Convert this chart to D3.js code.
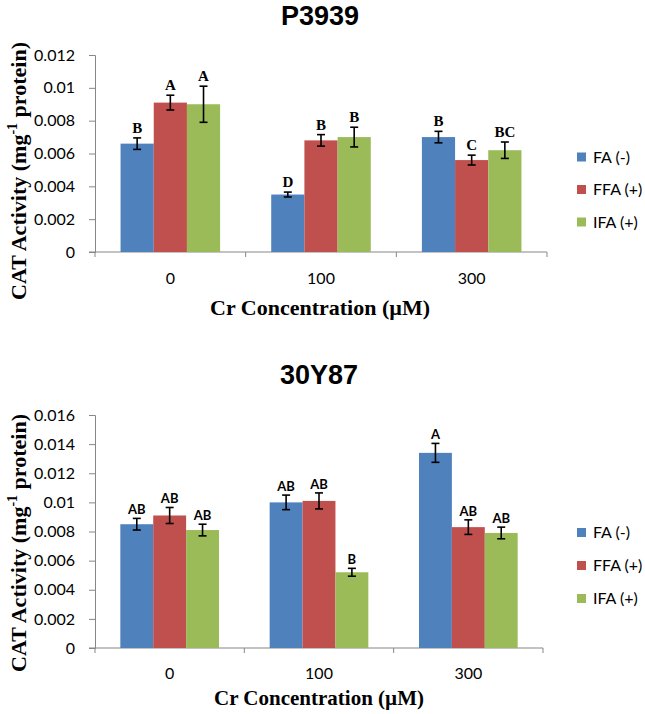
<!DOCTYPE html>
<html>
<head>
<meta charset="utf-8">
<script src="https://cdn.jsdelivr.net/npm/d3@7"></script>
<style>
  body { margin: 0; background: #fff; }
  svg { display: block; }
  .sans { font-family: Lato, "Open Sans", sans-serif; }
  .head { font-family: "Liberation Sans", Arial, sans-serif; }
  .serif { font-family: "Liberation Serif", "DejaVu Serif", serif; }
</style>
</head>
<body>
<div id="chart"></div>
<script>
const WIDTH = 645;
const HEIGHT = 714;

// shared categories and series
const categories = ["0", "100", "300"];
const seriesNames = ["FA (-)", "FFA (+)", "IFA (+)"];
const colors = ["#4F81BD", "#C0504D", "#9BBB59"];

// P3939
const p3939Ticks = [0, 0.002, 0.004, 0.006, 0.008, 0.01, 0.012];
const p3939TickLabels = ["0", "0.002", "0.004", "0.006", "0.008", "0.01", "0.012"];
const p3939FA = [0.0066, 0.0035, 0.0070];
const p3939FFA = [0.0091, 0.0068, 0.0056];
const p3939IFA = [0.0090, 0.0070, 0.0062];
const p3939FAErr = [0.00035, 0.00015, 0.00035];
const p3939FFAErr = [0.00045, 0.00035, 0.0003];
const p3939IFAErr = [0.0011, 0.0006, 0.0005];
const p3939FALetters = ["B", "D", "B"];
const p3939FFALetters = ["A", "B", "C"];
const p3939IFALetters = ["A", "B", "BC"];

// 30Y87
const y30Ticks = [0, 0.002, 0.004, 0.006, 0.008, 0.01, 0.012, 0.014, 0.016];
const y30TickLabels = ["0", "0.002", "0.004", "0.006", "0.008", "0.01", "0.012", "0.014", "0.016"];
const y30FA = [0.0085, 0.0100, 0.0134];
const y30FFA = [0.0091, 0.0101, 0.0083];
const y30IFA = [0.0081, 0.0052, 0.0079];
const y30FAErr = [0.0004, 0.0005, 0.00065];
const y30FFAErr = [0.00055, 0.00055, 0.0005];
const y30IFAErr = [0.0004, 0.00027, 0.0004];
const y30FALetters = ["AB", "AB", "A"];
const y30FFALetters = ["AB", "AB", "AB"];
const y30IFALetters = ["AB", "B", "AB"];

const svg = d3.select("#chart")
  .append("svg")
    .attr("width", WIDTH)
    .attr("height", HEIGHT);

function drawChart(opt) {
  const g = svg.append("g");

  // build rows from the arrays
  const rows = [];
  opt.values.forEach((vals, s) => {
    vals.forEach((v, c) => {
      rows.push({cat: categories[c], series: seriesNames[s], s: s,
                 value: v, err: opt.errs[s][c], letter: opt.letters[s][c]});
    });
  });

  const x0 = d3.scaleBand()
    .domain(categories)
    .range([opt.left, opt.right])
    .paddingInner(0).paddingOuter(0);

  const x1 = d3.scaleBand()
    .domain(seriesNames)
    .range([0, x0.bandwidth()])
    .paddingInner(0).paddingOuter(0.77);

  const y = d3.scaleLinear()
    .domain([0, opt.yMax])
    .range([opt.bottom, opt.top]);

  // title
  g.append("text")
    .attr("class", "head")
    .attr("x", opt.titleX).attr("y", opt.titleY)
    .attr("text-anchor", "middle")
    .attr("font-size", 27).attr("font-weight", "bold")
    .text(opt.title);

  // y axis
  const yAxis = g.append("g")
    .attr("transform", "translate(" + opt.left + ",0)")
    .call(d3.axisLeft(y).tickValues(opt.ticks).tickSize(6).tickPadding(14)
      .tickFormat((d, i) => opt.tickLabels[i]));
  yAxis.selectAll("path, line").attr("stroke", "#878787");
  yAxis.selectAll("text").attr("class", "sans").attr("font-size", 16).attr("fill", "#000");

  // x axis (ticks on band edges)
  const xAxis = g.append("g")
    .attr("transform", "translate(0," + opt.bottom + ")");
  xAxis.append("line")
    .attr("x1", opt.left - 6).attr("x2", opt.right)
    .attr("stroke", "#878787");
  const edges = categories.map(c => x0(c)).concat([opt.right]);
  xAxis.selectAll(".edge")
    .data(edges)
    .enter()
    .append("line")
      .attr("x1", d => d).attr("x2", d => d)
      .attr("y1", 0).attr("y2", 5)
      .attr("stroke", "#878787");
  xAxis.selectAll(".cat")
    .data(categories)
    .enter()
    .append("text")
      .attr("class", "sans")
      .attr("x", d => x0(d) + x0.bandwidth() / 2)
      .attr("y", opt.catY - opt.bottom)
      .attr("dy", "0.35em")
      .attr("text-anchor", "middle")
      .attr("font-size", 16)
      .text(d => d);

  // bars
  g.append("g")
    .selectAll("rect")
    .data(rows)
    .enter()
    .append("rect")
      .attr("x", d => x0(d.cat) + x1(d.series))
      .attr("y", d => y(d.value))
      .attr("width", x1.bandwidth())
      .attr("height", d => y(0) - y(d.value))
      .attr("fill", d => colors[d.s]);

  // error bars
  const eb = g.append("g").attr("stroke", "#000").attr("stroke-width", 1.6);
  rows.forEach(d => {
    const cx = x0(d.cat) + x1(d.series) + x1.bandwidth() / 2;
    const y1 = y(d.value + d.err), y2 = y(d.value - d.err);
    eb.append("line").attr("x1", cx).attr("x2", cx).attr("y1", y1).attr("y2", y2);
    eb.append("line").attr("x1", cx - 4).attr("x2", cx + 4).attr("y1", y1).attr("y2", y1);
    eb.append("line").attr("x1", cx - 4).attr("x2", cx + 4).attr("y1", y2).attr("y2", y2);
  });

  // significance letters
  g.append("g")
    .selectAll("text")
    .data(rows)
    .enter()
    .append("text")
      .attr("class", opt.letterClass)
      .attr("x", d => x0(d.cat) + x1(d.series) + x1.bandwidth() / 2)
      .attr("y", d => y(d.value + d.err) - opt.letterGap)
      .attr("text-anchor", "middle")
      .attr("font-size", opt.letterSize)
      .attr("font-weight", "bold")
      .text(d => d.letter);

  // y axis title
  const yt = g.append("text")
    .attr("class", "serif")
    .attr("transform", "translate(" + opt.yTitleX + "," + opt.yTitleY + ") rotate(-90)")
    .attr("text-anchor", "middle")
    .attr("font-size", 22).attr("font-weight", "bold");
  yt.append("tspan").text("CAT Activity (mg");
  yt.append("tspan").attr("dy", -9).attr("font-size", 14).text("-1");
  yt.append("tspan").attr("dy", 9).text(" protein)");

  // x axis title
  g.append("text")
    .attr("class", "serif")
    .attr("x", opt.xTitleX).attr("y", opt.xTitleY)
    .attr("text-anchor", "middle")
    .attr("font-size", opt.xTitleSize).attr("font-weight", "bold")
    .text("Cr Concentration (\u00B5M)");

  // legend
  const lg = g.append("g");
  seriesNames.forEach((name, i) => {
    const cy = opt.legendY + i * opt.legendStep;
    lg.append("rect")
      .attr("x", 577).attr("y", cy - 4.5)
      .attr("width", 9).attr("height", 9)
      .attr("fill", colors[i]);
    lg.append("text")
      .attr("class", "sans")
      .attr("x", 593).attr("y", cy)
      .attr("dy", "0.35em")
      .attr("font-size", 16)
      .text(name);
  });
}

drawChart({
  title: "P3939", titleX: 320, titleY: 25,
  left: 95, right: 547, top: 55, bottom: 252,
  yMax: 0.012, ticks: p3939Ticks, tickLabels: p3939TickLabels,
  values: [p3939FA, p3939FFA, p3939IFA],
  errs: [p3939FAErr, p3939FFAErr, p3939IFAErr],
  letters: [p3939FALetters, p3939FFALetters, p3939IFALetters],
  letterClass: "serif", letterSize: 15, letterGap: 5,
  catY: 278, xTitleX: 320, xTitleY: 315, xTitleSize: 22,
  yTitleX: 26, yTitleY: 171,
  legendY: 157, legendStep: 32.5
});

drawChart({
  title: "30Y87", titleX: 319, titleY: 384,
  left: 95, right: 543, top: 415, bottom: 648,
  yMax: 0.016, ticks: y30Ticks, tickLabels: y30TickLabels,
  values: [y30FA, y30FFA, y30IFA],
  errs: [y30FAErr, y30FFAErr, y30IFAErr],
  letters: [y30FALetters, y30FFALetters, y30IFALetters],
  letterClass: "sans", letterSize: 13, letterGap: 4,
  catY: 673, xTitleX: 319, xTitleY: 705, xTitleSize: 21,
  yTitleX: 26, yTitleY: 543,
  legendY: 532.5, legendStep: 33
});
</script>
</body>
</html>
